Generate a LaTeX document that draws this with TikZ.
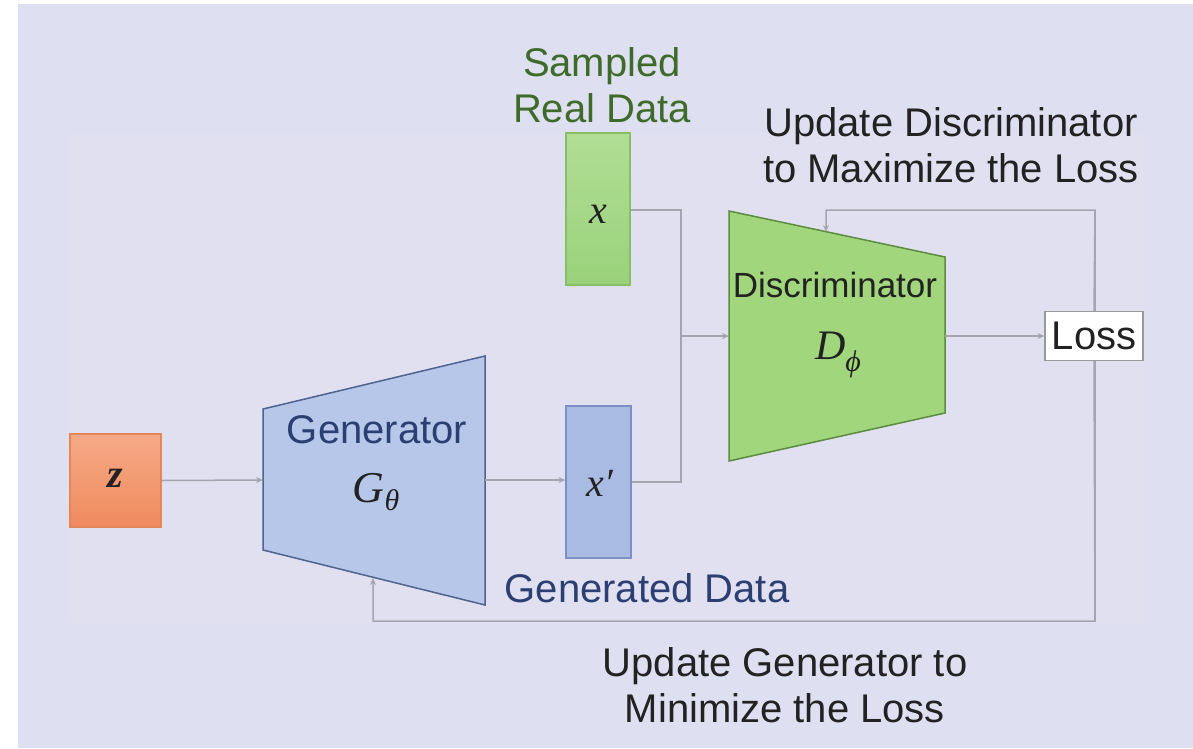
\documentclass[tikz,border=0pt]{standalone}
\usepackage{fontspec}
\setmainfont{Liberation Sans}
\newfontfamily\mathserif{Liberation Serif}
\usetikzlibrary{arrows.meta}
\definecolor{bgA}{HTML}{DEE0F1}
\definecolor{bgB}{HTML}{E1E0F0}
\definecolor{zTop}{HTML}{F6AA86}
\definecolor{zBot}{HTML}{EF8A5E}
\definecolor{zBorder}{HTML}{E48658}
\definecolor{genFill}{HTML}{B7C7E9}
\definecolor{genBorder}{HTML}{4F6390}
\definecolor{xpFill}{HTML}{A9BAE3}
\definecolor{xpBorder}{HTML}{7D90C2}
\definecolor{xTop}{HTML}{B0DE95}
\definecolor{xBot}{HTML}{9AD27A}
\definecolor{xBorder}{HTML}{86BF68}
\definecolor{discFill}{HTML}{A2D67C}
\definecolor{discBorder}{HTML}{5B8C3F}
\definecolor{lineGrey}{HTML}{A6A4AE}
\definecolor{greenText}{HTML}{3E6B2A}
\definecolor{blueText}{HTML}{2B3F73}
\definecolor{darkText}{HTML}{222222}
\begin{document}
\begin{tikzpicture}[x=1pt,y=-1pt,
  lbl/.style={inner sep=0pt, align=center, font=\fontsize{40}{46}\selectfont},
  mathlbl/.style={inner sep=0pt, text=darkText, font=\mathserif\itshape\fontsize{40}{46}\selectfont},
  conn/.style={draw=lineGrey, line width=1.5pt},
  arr/.style={conn, -{Stealth[length=7pt,width=6pt]}},
  loss/.style={draw=gray!80, fill=white, line width=1.2pt, inner sep=0pt,
    minimum width=98pt, minimum height=49pt, font=\fontsize{40}{46}\selectfont}
]
\useasboundingbox (0,0) rectangle (1193,748);
\fill[white] (0,0) rectangle (1193,748);
\fill[bgA] (18,4) rectangle (1193,748);
\fill[bgB] (70,133) rectangle (1145,623);

% z box
\node[draw=zBorder, line width=1.2pt, top color=zTop, bottom color=zBot,
  minimum width=91pt, minimum height=93pt, inner sep=0pt] (z) at (115.5,480.5) {};
\node[mathlbl, font=\mathserif\bfseries\itshape\fontsize{40}{46}\selectfont] (zl) at (115,478) {z};

% generator trapezoid
\coordinate (g1) at (263,409);
\coordinate (g2) at (485,356);
\coordinate (g3) at (485,605);
\coordinate (g4) at (263,550);
\draw[fill=genFill, draw=genBorder, line width=1.5pt] (g1) -- (g2) -- (g3) -- (g4) -- cycle;
\coordinate (gIn) at (263,480);
\coordinate (gOut) at (485,480);
\coordinate (gFb) at (373,578);
\node[lbl, text=blueText] (genl) at (377,430) {Generator};
\node[mathlbl, font=\mathserif\itshape\fontsize{44}{48}\selectfont] (gth) at (376,492)
  {G\raisebox{-8pt}{\fontsize{30}{34}\selectfont θ}};

% x' box
\node[draw=xpBorder, fill=xpFill, line width=1.2pt, minimum width=65pt,
  minimum height=152pt, inner sep=0pt] (xp) at (598.5,482) {};
\node[mathlbl] (xpl) at (600,483) {x′};

% x box
\node[draw=xBorder, top color=xTop, bottom color=xBot, line width=1.2pt,
  minimum width=64pt, minimum height=152pt, inner sep=0pt] (x) at (598,209) {};
\node[mathlbl] (xl) at (598,214) {x};

% discriminator trapezoid
\coordinate (d1) at (729,211);
\coordinate (d2) at (945,257);
\coordinate (d3) at (945,413);
\coordinate (d4) at (729,461);
\draw[fill=discFill, draw=discBorder, line width=1.5pt] (d1) -- (d2) -- (d3) -- (d4) -- cycle;
\coordinate (dIn) at (729,336);
\coordinate (dOut) at (945,336);
\coordinate (dFb) at (826,232);
\node[inner sep=0pt, font=\fontsize{35}{40}\selectfont, text=darkText] (discl) at (835,285) {Discriminator};
\node[mathlbl, font=\mathserif\itshape\fontsize{42}{46}\selectfont] (dph) at (838,355)
  {D\raisebox{-12pt}{\fontsize{30}{34}\selectfont ϕ}};

% loss
\coordinate (lossTop) at (1095,210);
\coordinate (lossBot) at (1095,621);
\coordinate (junc) at (681,336);
\draw[conn] (1095,336) -- (lossTop);
\draw[conn] (1095,336) -- (lossBot);
\node[loss, text=darkText] (L) at (1094,336) {Loss};

% connectors
\draw[arr] (z.east) -- (gIn);
\draw[arr] (gOut) -- (xp.west |- gOut);
\draw[conn] (x.east |- 0,210) -| (junc);
\draw[conn] (xp.east |- 0,482) -| (junc);
\draw[arr] (junc) -- (dIn);
\draw[arr] (dOut) -- (L.west);
\draw[arr] (L.north) -- (lossTop) -| (dFb);
\draw[arr] (L.south) -- (lossBot) -| (gFb);

% text labels
\node[lbl, text=greenText] (samp) at (602,85) {Sampled\\Real Data};
\node[lbl, text=darkText] (updD) at (951,145) {Update Discriminator\\to Maximize the Loss};
\node[lbl, text=blueText] (gend) at (647,588) {Generated Data};
\node[lbl, text=darkText] (updG) at (785,685) {Update Generator to\\Minimize the Loss};
\end{tikzpicture}
\end{document}
